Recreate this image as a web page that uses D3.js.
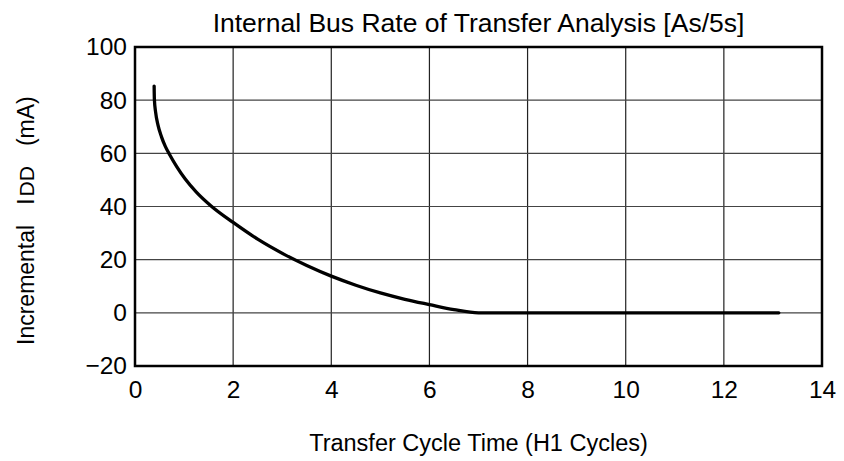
<!DOCTYPE html>
<html>
<head>
<meta charset="utf-8">
<script src="https://cdn.jsdelivr.net/npm/d3@7"></script>
<style>
  html, body { margin: 0; padding: 0; background: #fff; }
  svg { display: block; font-family: "Liberation Sans", Arial, sans-serif; }
</style>
</head>
<body>
<svg id="chart" width="844" height="461"></svg>
<script>
// Transfer cycle time (H1 cycles) vs. incremental supply current (mA)
const cycleTime = [0.39, 0.395, 0.42, 0.47, 0.54, 0.62, 0.71, 0.85, 1.02, 1.25, 1.55, 2.0, 2.5, 3.05, 3.5, 4.0, 4.5, 5.0, 5.5, 6.0, 6.5, 7.0, 13.12];
const currentMA = [85.3, 80.3, 75.5, 70.5, 66.2, 62.5, 59.4, 55.0, 50.4, 45.4, 40.2, 34.0, 27.7, 21.9, 17.8, 13.8, 10.4, 7.5, 5.1, 3.1, 1.2, 0.0, 0.0];
const xTicks = [0, 2, 4, 6, 8, 10, 12, 14];
const yTicks = [-20, 0, 20, 40, 60, 80, 100];

const titleText = "Internal Bus Rate of Transfer Analysis [As/5s]";
const xLabelText = "Transfer Cycle Time (H1 Cycles)";

const svg = d3.select("#chart");
const plot = { left: 135, right: 822, top: 47, bottom: 366 };

const x = d3.scaleLinear().domain([0, 14]).range([plot.left, plot.right]);
const y = d3.scaleLinear().domain([-20, 100]).range([plot.bottom, plot.top]);

// grid lines
const grid = svg.append("g");
grid.selectAll("line.v").data(xTicks.slice(1, -1)).join("line")
  .attr("x1", d => x(d)).attr("x2", d => x(d))
  .attr("y1", plot.top).attr("y2", plot.bottom)
  .attr("stroke", "#222").attr("stroke-width", 1.2);
grid.selectAll("line.h").data(yTicks.slice(1, -1)).join("line")
  .attr("y1", d => y(d)).attr("y2", d => y(d))
  .attr("x1", plot.left).attr("x2", plot.right)
  .attr("stroke", "#444").attr("stroke-width", 1.2);

// axes (labels only, no tick marks)
const xAxis = svg.append("g")
  .attr("transform", `translate(0,${plot.bottom})`)
  .call(d3.axisBottom(x).tickValues(xTicks).tickSize(0).tickPadding(15));
const yAxis = svg.append("g")
  .attr("transform", `translate(${plot.left},0)`)
  .call(d3.axisLeft(y).tickValues(yTicks).tickSize(0).tickPadding(8));
[xAxis, yAxis].forEach(a => {
  a.select(".domain").remove();
  a.selectAll("text").attr("font-size", 24.5).attr("fill", "#000")
    .attr("font-family", "Liberation Sans, Arial, sans-serif");
});

// frame
svg.append("rect")
  .attr("x", plot.left).attr("y", plot.top)
  .attr("width", plot.right - plot.left).attr("height", plot.bottom - plot.top)
  .attr("fill", "none").attr("stroke", "#000").attr("stroke-width", 2.5);

// curve
const pts = cycleTime.map((c, i) => [c, currentMA[i]]);
svg.append("path")
  .datum(pts)
  .attr("fill", "none").attr("stroke", "#000").attr("stroke-width", 3.3)
  .attr("stroke-linecap", "round")
  .attr("d", d3.line().x(d => x(d[0])).y(d => y(d[1])).curve(d3.curveMonotoneX));

// title
svg.append("text")
  .attr("x", (plot.left + plot.right) / 2).attr("y", 32)
  .attr("text-anchor", "middle").attr("font-size", 26.5).attr("fill", "#000")
  .text(titleText);

// x label
svg.append("text")
  .attr("x", (plot.left + plot.right) / 2).attr("y", 451)
  .attr("text-anchor", "middle").attr("font-size", 23.5).attr("fill", "#000")
  .text(xLabelText);

// y label: "Incremental  I_DD  (mA)"
const yl = svg.append("text")
  .attr("transform", "translate(34,345) rotate(-90)")
  .attr("text-anchor", "start").attr("font-size", 23).attr("fill", "#000");
yl.append("tspan").text("Incremental");
yl.append("tspan").attr("dx", 20).text("I");
yl.append("tspan").attr("dx", 2).attr("font-size", 21).text("DD");
yl.append("tspan").attr("dx", 20).text("(mA)");
</script>
</body>
</html>
